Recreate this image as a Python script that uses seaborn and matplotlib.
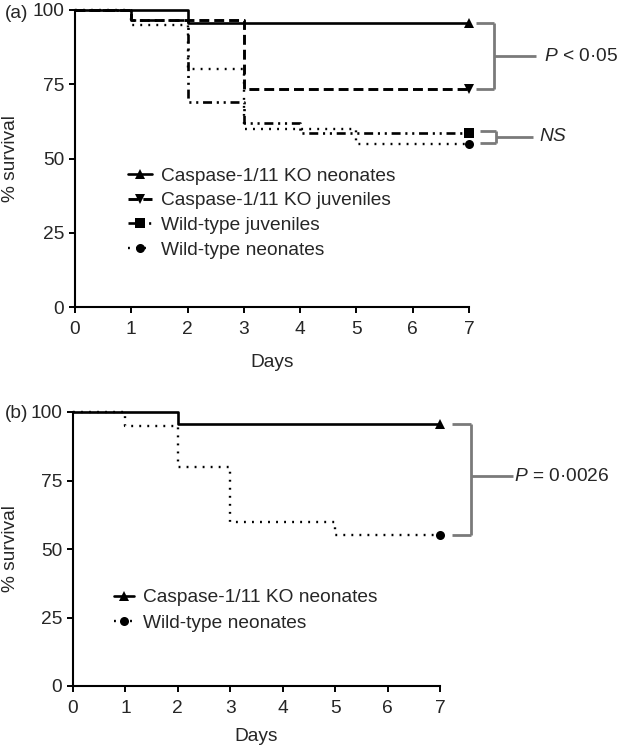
import numpy as np
import pandas as pd
import matplotlib.pyplot as plt
import seaborn as sns
from matplotlib.lines import Line2D

# survival data (% alive) at each event day
days_ko_neo = [0, 2, 7]
surv_ko_neo = [100, 95.5, 95.5]
days_ko_juv = [0, 1, 3, 7]
surv_ko_juv = [100, 96.7, 73.3, 73.3]
days_wt_juv = [0, 1, 2, 3, 4, 7]
surv_wt_juv = [100, 96.6, 69.0, 62.1, 58.6, 58.6]
days_wt_neo = [0, 1, 2, 3, 5, 7]
surv_wt_neo = [100, 95, 80, 60, 55, 55]

labels_a = ['Caspase-1/11 KO neonates', 'Caspase-1/11 KO juveniles',
            'Wild-type juveniles', 'Wild-type neonates']
labels_b = ['Caspase-1/11 KO neonates', 'Wild-type neonates']
x_ticks = [0, 1, 2, 3, 4, 5, 6, 7]
y_ticks = [0, 25, 50, 75, 100]

sns.set_style('ticks')
plt.rcParams['font.family'] = ['Liberation Sans', 'DejaVu Sans']
plt.rcParams['mathtext.fontset'] = 'custom'
plt.rcParams['mathtext.it'] = 'Liberation Sans:italic'
plt.rcParams['mathtext.rm'] = 'Liberation Sans'

FS = 13.8
GREY = '#7a7a7a'

styles = {
    'ko_neo': dict(ls='-', lw=1.9, marker='^'),
    'ko_juv': dict(ls=(0, (3.4, 1.7)), lw=2.1, marker='v'),
    'wt_juv': dict(ls=(0, (3.4, 1.8, 0.8, 1.8, 0.8, 1.8)), lw=1.9, marker='s'),
    'wt_neo': dict(ls=(0, (0.8, 2.6)), lw=1.7, marker='o'),
}


def draw(ax, days, surv, key):
    st = styles[key]
    sns.lineplot(x=days, y=surv, ax=ax, color='black', linestyle=st['ls'],
                 linewidth=st['lw'], drawstyle='steps-post', clip_on=False,
                 marker=st['marker'], markevery=[len(days) - 1],
                 markersize=6.5, markeredgewidth=0, estimator=None, sort=False)


def style_axes(ax):
    ax.set_xlim(0, 7)
    ax.set_ylim(0, 100)
    ax.set_xticks(x_ticks)
    ax.set_yticks(y_ticks)
    ax.tick_params(labelsize=FS, length=4.3, width=1.4, color='black', pad=3.5)
    ax.tick_params(axis='x', pad=6)
    for s in ['top', 'right']:
        ax.spines[s].set_visible(False)
    for s in ['left', 'bottom']:
        ax.spines[s].set_linewidth(1.5)
        ax.spines[s].set_color('black')
    ax.set_xlabel('Days', fontsize=FS)
    ax.set_ylabel('% survival', fontsize=FS)


def handle(key):
    st = styles[key]
    return Line2D([], [], color='black', linestyle=st['ls'], linewidth=st['lw'],
                  marker=st['marker'], markersize=6.5, markeredgewidth=0)


def bracket(ax, x0, x1, x2, ytop, ybot, text, xt, ym=None):
    kw = dict(color=GREY, lw=2.0, clip_on=False, solid_capstyle='butt')
    ax.plot([x0, x1], [ytop, ytop], **kw)
    ax.plot([x0, x1], [ybot, ybot], **kw)
    ax.plot([x1, x1], [ytop, ybot], **kw)
    if ym is None:
        ym = (ytop + ybot) / 2
    ax.plot([x1, x2], [ym, ym], **kw)
    ax.text(xt, ym, text, fontsize=FS, va='center', ha='left')


fig = plt.figure(figsize=(6.19, 7.47), dpi=100)
ax1 = fig.add_axes([75 / 619, 1 - 307 / 747, 394 / 619, 297 / 747])
ax2 = fig.add_axes([73 / 619, 1 - 686 / 747, 367 / 619, 274 / 747])

# panel (a)
draw(ax1, days_ko_neo, surv_ko_neo, 'ko_neo')
draw(ax1, days_ko_juv, surv_ko_juv, 'ko_juv')
draw(ax1, days_wt_juv, surv_wt_juv, 'wt_juv')
draw(ax1, days_wt_neo, surv_wt_neo, 'wt_neo')
style_axes(ax1)
ax1.legend([handle(k) for k in ['ko_neo', 'ko_juv', 'wt_juv', 'wt_neo']], labels_a,
           loc='upper left', bbox_to_anchor=(0.134, 0.471), frameon=False,
           fontsize=FS, handlelength=1.25, handletextpad=0.5,
           labelspacing=0.38, borderpad=0, borderaxespad=0)
bracket(ax1, 7.12, 7.44, 8.19, 95.5, 73.3, r'$P$ < 0·05', 8.33)
bracket(ax1, 7.19, 7.48, 8.13, 59.4, 55.1, r'$NS$', 8.24)
ax1.yaxis.set_label_coords(-0.142, 0.5)
ax1.xaxis.set_label_coords(0.5, -0.158)

# panel (b)
draw(ax2, days_ko_neo, surv_ko_neo, 'ko_neo')
draw(ax2, days_wt_neo, surv_wt_neo, 'wt_neo')
style_axes(ax2)
ax2.legend([handle(k) for k in ['ko_neo', 'wt_neo']], labels_b,
           loc='upper left', bbox_to_anchor=(0.112, 0.354), frameon=False,
           fontsize=FS, handlelength=1.05, handletextpad=0.46,
           labelspacing=0.42, borderpad=0, borderaxespad=0)
bracket(ax2, 7.22, 7.59, 8.39, 95.6, 55.1, r'$P$ = 0·0026', 8.41, ym=76.5)
ax2.yaxis.set_label_coords(-0.147, 0.5)
ax2.xaxis.set_label_coords(0.5, -0.154)

fig.text(0.008, 1 - 13 / 747, '(a)', fontsize=FS, va='center', ha='left')
fig.text(0.008, 1 - 414 / 747, '(b)', fontsize=FS, va='center', ha='left')

fig.savefig('out.png', dpi=100)
